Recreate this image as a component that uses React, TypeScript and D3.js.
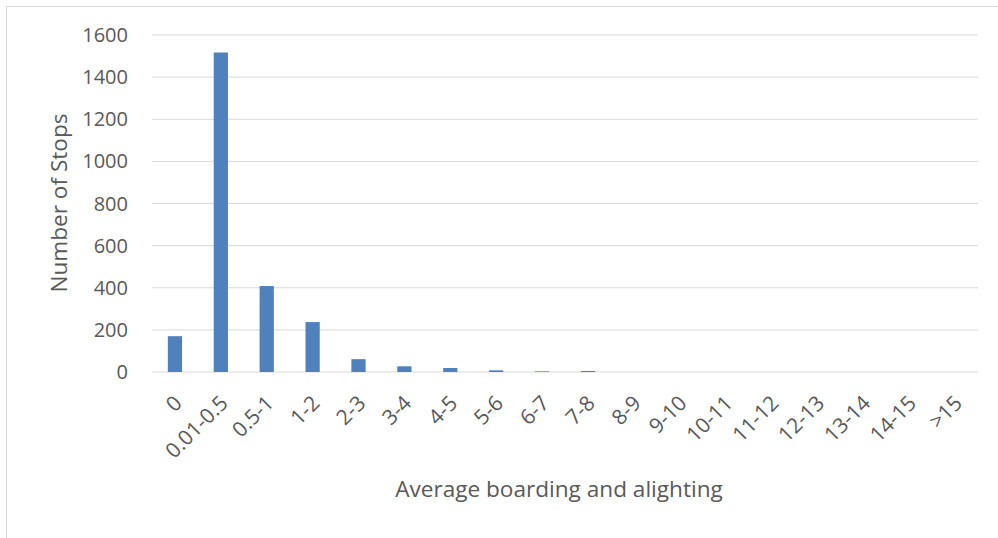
import React from "react";
import * as d3 from "d3";

const categories = ["0","0.01-0.5","0.5-1","1-2","2-3","3-4","4-5","5-6","6-7","7-8","8-9","9-10","10-11","11-12","12-13","13-14","14-15",">15"];
const values = [170,1517,408,237,61,27,19,8,3,5,0,0,0,0,0,0,0,0];
const yTicks = [0,200,400,600,800,1000,1200,1400,1600];

export default function App() {
  const W = 998, H = 538;
  const left = 152, right = 978, top = 35, bottom = 372;
  const x = d3.scaleBand<string>().domain(categories).range([left, right]).paddingInner(0.69).paddingOuter(0.345);
  const y = d3.scaleLinear().domain([0, 1600]).range([bottom, top]);
  const font = "'Open Sans', sans-serif";
  const col = "#595959";
  return (
    <div style={{ position: "absolute", left: 0, top: 0 }}>
      <svg width={W} height={H} style={{ display: "block" }}>
        <rect x={0} y={0} width={W} height={H} fill="#fff" />
        <rect x={6.5} y={6.5} width={W + 10} height={H + 10} fill="none" stroke="#d9d9d9" strokeWidth={1} />
        {yTicks.map(t => (
          <g key={t}>
            <line x1={left} x2={right} y1={y(t)} y2={y(t)} stroke="#d9d9d9" strokeWidth={1} />
            <text x={128} y={y(t)} dy="0.35em" textAnchor="end" fontFamily={font} fontSize={20} fill={col}>{t}</text>
          </g>
        ))}
        {categories.map((c, i) => (
          <rect key={c} x={x(c)} y={y(values[i])} width={x.bandwidth()} height={y(0) - y(values[i])} fill="#4f81bd" />
        ))}
        {categories.map(c => {
          const cx = (x(c) as number) + x.bandwidth() / 2 - 2;
          const cy = bottom + 22;
          return (
            <text key={c} x={cx} y={cy} transform={`rotate(-45 ${cx} ${cy})`} textAnchor="end" dy="0.7em" fontFamily={font} fontSize={21} fill={col}>{c}</text>
          );
        })}
        <text x={(left + right) / 2 - 6} y={497} textAnchor="middle" fontFamily={font} fontSize={22.6} fill={col}>Average boarding and alighting</text>
        <text transform={`translate(67 ${(113 + 293) / 2}) rotate(-90)`} textAnchor="middle" fontFamily={font} fontSize={22.6} fill={col}>Number of Stops</text>
      </svg>
    </div>
  );
}
